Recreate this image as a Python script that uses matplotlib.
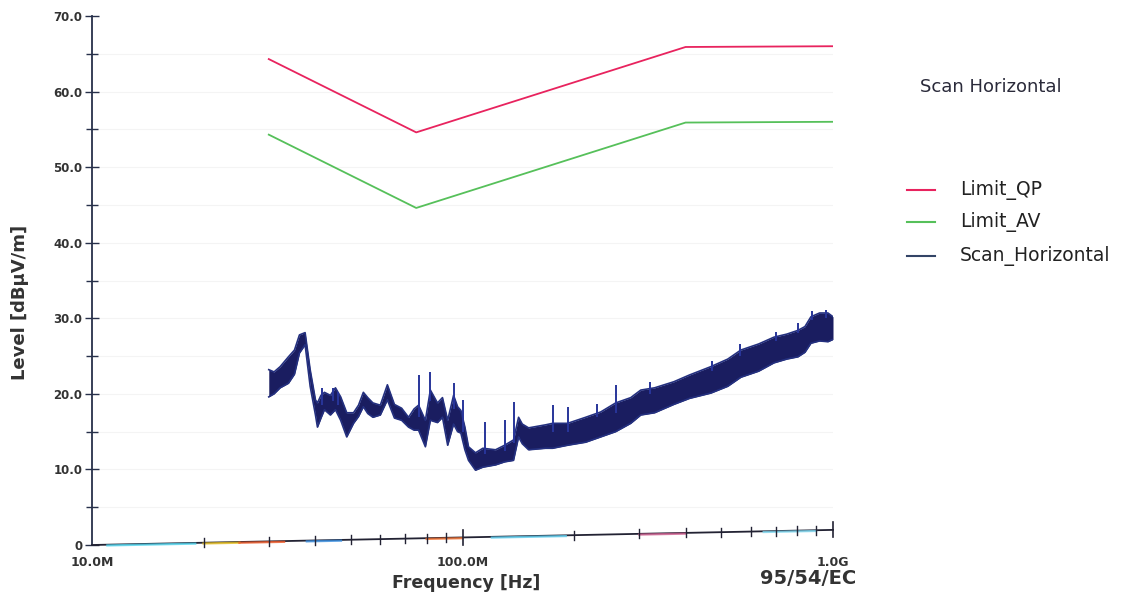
import matplotlib
matplotlib.use("Agg")
import matplotlib.pyplot as plt
from matplotlib.lines import Line2D
import numpy as np

# ---------------- data ----------------
limit_freq_mhz = [30, 75, 400, 1000]
limit_qp = [64.3, 54.6, 65.9, 66.0]
limit_av = [54.3, 44.6, 55.9, 56.0]

# scan envelope: frequency [MHz], lower and upper level
scan_freq_mhz = [30.0, 31.0, 32.2, 33.9, 35.2, 36.3, 37.6, 38.8, 40.1, 40.6, 41.5, 42.4,
                 44.0, 45.4, 46.9, 48.7, 50.8, 52.4, 54.0, 55.5, 57.3, 60.0, 62.7, 65.5,
                 68.5, 71.5, 74.0, 76.1, 79.4, 81.9, 85.6, 88.3, 91.2, 94.6, 97.0, 99.0,
                 101.5, 103.8, 108.4, 113.5, 122.8, 129.9, 137.3, 141.7, 145.0, 150.8,
                 167.6, 175.1, 192.2, 215.0, 236.0, 259.1, 284.5, 302.8, 330.0, 371.8,
                 410.0, 468.0, 520.0, 564.1, 630.0, 692.7, 750.0, 804.3, 840.0, 871.9,
                 920.0, 969.0, 1000.0]
scan_lo = [19.6, 20.0, 20.8, 21.4, 22.6, 25.4, 26.5, 21.0, 17.2, 15.6, 16.8, 17.9,
           17.2, 17.9, 16.5, 14.3, 16.1, 17.0, 18.3, 17.4, 16.9, 17.2, 19.2, 16.8,
           16.5, 15.6, 15.2, 15.2, 13.0, 16.5, 16.2, 16.9, 13.2, 16.0, 15.0, 14.8,
           12.6, 11.2, 9.9, 10.3, 10.6, 11.0, 11.2, 14.3, 13.4, 12.6,
           12.8, 12.8, 13.2, 13.6, 14.3, 15.0, 16.1, 17.2, 17.5, 18.6,
           19.4, 20.1, 21.0, 22.2, 23.0, 24.1, 24.6, 24.9, 25.5, 26.7,
           27.0, 26.9, 27.2]
scan_hi = [23.2, 22.9, 23.6, 24.9, 25.8, 27.8, 28.1, 23.2, 19.2, 18.8, 19.8, 20.2,
           19.8, 20.8, 19.6, 17.5, 17.5, 18.5, 20.2, 19.5, 18.8, 18.5, 21.2, 18.6,
           18.1, 16.9, 18.0, 18.5, 16.5, 20.5, 18.8, 19.5, 16.5, 19.8, 18.3, 17.8,
           15.6, 13.0, 12.2, 12.8, 12.6, 13.2, 13.9, 16.9, 16.0, 15.5,
           15.9, 16.1, 16.1, 16.9, 17.6, 18.8, 19.5, 20.5, 20.8, 21.6,
           22.5, 23.6, 24.6, 25.8, 26.6, 27.5, 27.9, 28.4, 28.9, 30.2,
           30.7, 30.7, 30.2]

# narrow spikes above the envelope
spike_freq_mhz = [41.8, 44.6, 46.2, 76.1, 81.9, 94.6, 100.2, 114.7, 129.9, 137.3, 175.1,
                  192.2, 259.1, 230.0, 320.0, 470.0, 560.0, 700.0, 805.0, 880.0, 960.0]
spike_top = [20.8, 20.8, 20.2, 22.5, 22.9, 21.4, 19.2, 16.3, 16.5, 18.9, 18.5,
             18.3, 21.2, 18.6, 21.6, 24.4, 26.6, 28.2, 29.4, 31.0, 31.1]
spike_base = [18.5, 19.0, 18.5, 17.0, 19.0, 18.0, 15.0, 12.0, 12.5, 13.5, 15.0,
              15.0, 17.5, 17.0, 20.0, 23.0, 25.0, 27.0, 28.0, 29.8, 30.0]

# drawn x-axis baseline (it rises slightly across the plot)
axis_line_freq_mhz = [10, 1000]
axis_line_level = [0.0, 2.0]
axis_minor_mhz = [20, 30, 40, 50, 60, 70, 80, 90, 200, 300, 400, 500, 600, 700, 800, 900]
axis_colour_segs = [(11, 19, '#55d8f0'), (20, 25, '#e8c020'), (25, 33, '#f05a28'),
                    (38, 47, '#3a8fe0'), (80, 100, '#f07030'), (120, 190, '#60d0f0'),
                    (300, 400, '#d06090'), (650, 900, '#80d8f0')]

y_ticks = [0, 10, 20, 30, 40, 50, 60, 70]
y_tick_labels = ['0', '10.0', '20.0', '30.0', '40.0', '50.0', '60.0', '70.0']
x_tick_mhz = [10, 100, 1000]
x_tick_labels = ['10.0M', '100.0M', '1.0G']

# ---------------- figure ----------------
W, H = 1132, 594
fig = plt.figure(figsize=(W / 100, H / 100), dpi=100)
fig.patch.set_facecolor('white')
ax = fig.add_axes([92 / W, 49 / H, (833 - 92) / W, (545 - 16) / H])
ax.set_xscale('log')
ax.set_xlim(10e6, 1e9)
ax.set_ylim(0, 70)

M = 1e6
# faint grid
for yv in range(5, 70, 5):
    ax.axhline(yv, color='#f4f4f4', lw=0.8, zorder=0)

# limit lines
ax.plot(np.array(limit_freq_mhz) * M, limit_qp, color='#e8235e', lw=1.3, zorder=3)
ax.plot(np.array(limit_freq_mhz) * M, limit_av, color='#56c05a', lw=1.3, zorder=3)

# scan trace
sf = np.array(scan_freq_mhz) * M
ax.fill_between(sf, scan_lo, scan_hi, color='#1a1d60', lw=0, zorder=4)
ax.plot(sf, scan_hi, color='#24307f', lw=1.2, zorder=4)
ax.plot(sf, scan_lo, color='#24307f', lw=1.2, zorder=4)
ax.vlines(np.array(spike_freq_mhz) * M, spike_base, spike_top, color='#28359a', lw=1.4, zorder=4)

# slanted x-axis line with ticks
xa = np.array(axis_line_freq_mhz) * M
ax.plot(xa, axis_line_level, color='#222233', lw=1.3, zorder=5, clip_on=False)


def base_at(fmhz):
    t = (np.log10(fmhz) - 1) / 2.0
    return axis_line_level[0] + t * (axis_line_level[1] - axis_line_level[0])


for f0, f1, c in axis_colour_segs:
    ax.plot([f0 * M, f1 * M], [base_at(f0) - 0.1, base_at(f1) - 0.1], color=c, lw=1.6,
            zorder=5, clip_on=False, alpha=0.8)
for fm in axis_minor_mhz:
    b = base_at(fm)
    ax.plot([fm * M, fm * M], [b - 0.6, b + 0.6], color='#222233', lw=1.0, zorder=6, clip_on=False)
for fm in [100, 1000]:
    b = base_at(fm)
    ax.plot([fm * M, fm * M], [b - 1.0, b + 1.0], color='#222233', lw=1.2, zorder=6, clip_on=False)

# spines / ticks
for s in ['top', 'right', 'bottom']:
    ax.spines[s].set_visible(False)
ax.spines['left'].set_color('#27304a')
ax.spines['left'].set_linewidth(1.3)
ax.set_yticks(y_ticks)
ax.set_yticklabels(y_tick_labels, fontsize=8.5, fontweight='bold', color='#333333')
ax.set_yticks(np.arange(5, 70, 10), minor=True)
ax.tick_params(axis='y', which='major', direction='inout', length=10, width=1.0, color='#27304a', pad=2)
ax.tick_params(axis='y', which='minor', direction='inout', length=8, width=1.0, color='#27304a')
ax.set_xticks([])
ax.set_xticks([], minor=True)
for fm, lab in zip(x_tick_mhz, x_tick_labels):
    ax.text(fm * M, -1.4, lab, ha='center', va='top', fontsize=9, fontweight='bold', color='#333333')

fig.text(20 / W, 1 - 302 / H, 'Level [dBµV/m]', ha='center', va='center', rotation=90,
         fontsize=13, fontweight='bold', color='#333333')
fig.text(466 / W, 1 - 583 / H, 'Frequency [Hz]', ha='center', va='center', fontsize=12.5,
         fontweight='bold', color='#333333')
fig.text(808 / W, 1 - 578 / H, '95/54/EC', ha='center', va='center', fontsize=14,
         fontweight='bold', color='#333333')

# legend
fig.text(920 / W, 1 - 87 / H, 'Scan Horizontal', ha='left', va='center', fontsize=13,
         color='#2a2a3a')
leg_names = ['Limit_QP', 'Limit_AV', 'Scan_Horizontal']
leg_colors = ['#e8235e', '#56c05a', '#334466']
leg_y = [190, 222, 256]
for name, c, yy in zip(leg_names, leg_colors, leg_y):
    fig.add_artist(Line2D([907 / W, 935 / W], [1 - yy / H, 1 - yy / H], color=c, lw=1.5))
    fig.text(960 / W, 1 - yy / H, name, ha='left', va='center', fontsize=13.5, color='#222222')

fig.savefig('out.png', dpi=100, facecolor='white')
